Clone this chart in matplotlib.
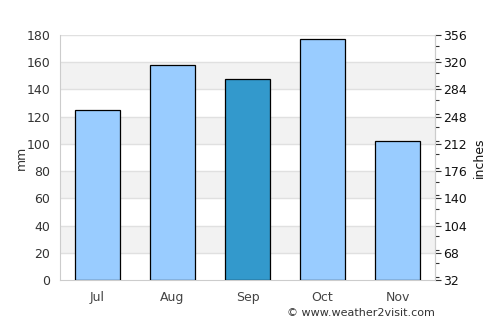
import matplotlib
matplotlib.use("Agg")
import matplotlib.pyplot as plt
from matplotlib.ticker import MultipleLocator

months = ["Jul", "Aug", "Sep", "Oct", "Nov"]
rain_mm = [125, 158, 148, 177, 102]
highlight = "Sep"
left_ticks = [0, 20, 40, 60, 80, 100, 120, 140, 160, 180]
right_ticks = [32, 68, 104, 140, 176, 212, 248, 284, 320, 356]

plt.rcParams['font.family'] = ['DejaVu Sans']
fig = plt.figure(figsize=(5, 3.25), dpi=100)
ax = fig.add_axes([60/500, 45/325, 375/500, 245/325])

ax.set_xlim(-0.5, len(months) - 0.5)
ax.set_ylim(0, 180)

# alternating bands
for i in range(len(left_ticks) - 1):
    if i % 2 == 1:
        ax.axhspan(left_ticks[i], left_ticks[i + 1], color="#f2f2f2", zorder=0, lw=0)
for t in left_ticks[1:]:
    ax.axhline(t, color="#e0e0e0", lw=1, zorder=1)

colors = ["#3399cc" if m == highlight else "#99ccff" for m in months]
ax.bar(range(len(months)), rain_mm, width=0.6, color=colors, edgecolor="black", linewidth=0.9, zorder=3)

fs = 9
ax.set_xticks(range(len(months)))
ax.set_xticklabels(months, color="#444444", fontsize=fs)
ax.set_yticks(left_ticks)
ax.set_yticklabels([str(t) for t in left_ticks], color="#333333", fontsize=fs)
ax.tick_params(axis="x", length=0, pad=8)
ax.tick_params(axis="y", length=0, pad=7)
ax.set_ylabel("mm", fontsize=fs, color="#333333", labelpad=-1)

for s in ["left", "bottom", "right"]:
    ax.spines[s].set_color("#cccccc")
ax.spines["top"].set_visible(False)

ax2 = ax.twinx()
ax2.set_ylim(32, 356)
ax2.set_yticks(right_ticks)
ax2.set_yticklabels([str(t) for t in right_ticks], fontsize=fs, color="#111111")
ax2.yaxis.set_minor_locator(MultipleLocator(18))
ax2.tick_params(axis="y", which="major", length=4, width=0.8, color="#333333", pad=2)
ax2.tick_params(axis="y", which="minor", length=3, width=0.8, color="#333333")
ax2.set_ylabel("inches", fontsize=fs, color="#111111", labelpad=4)
for s in ["left", "bottom", "top"]:
    ax2.spines[s].set_visible(False)
ax2.spines["right"].set_color("#cccccc")

fig.text(435/500, 1 - 313/325, "\u00a9 www.weather2visit.com", fontsize=8, color="#333333",
         ha="right", va="center")

fig.savefig("out.png", dpi=100)
